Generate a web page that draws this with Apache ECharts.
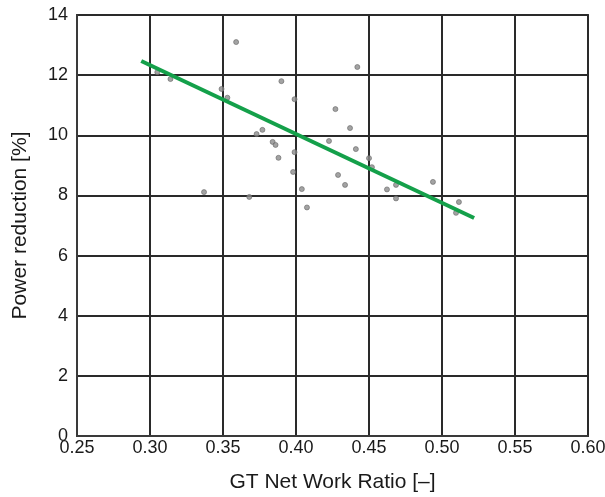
<!DOCTYPE html>
<html>
<head>
<meta charset="utf-8">
<script src="https://cdn.jsdelivr.net/npm/echarts@6/dist/echarts.min.js"></script>
<style>html,body{margin:0;padding:0;background:#fff}#c{width:605px;height:497px}</style>
</head>
<body>
<div id="c"></div>
<script>
const xRatio = [0.359,0.305,0.314,0.349,0.353,0.337,0.373,0.377,0.384,0.386,0.388,0.399,0.398,0.404,0.368,0.4075,0.390,0.399,0.427,0.442,0.437,0.4226,0.441,0.450,0.4288,0.4336,0.452,0.4623,0.4685,0.4685,0.4938,0.5116,0.5096];
const yPower = [13.1,12.1,11.87,11.54,11.25,8.11,10.04,10.18,9.78,9.68,9.25,9.44,8.78,8.21,7.95,7.6,11.8,11.2,10.87,12.27,10.24,9.81,9.54,9.24,8.68,8.35,8.94,8.2,7.9,8.35,8.45,7.78,7.42];
const fitX = [0.294, 0.522];
const fitY = [12.47, 7.25];
const xTicks = [0.25,0.30,0.35,0.40,0.45,0.50,0.55,0.60];

const chart = echarts.init(document.getElementById('c'));
const font = '"Liberation Sans", Arial, sans-serif';
chart.setOption({
  animation: false,
  grid: {left: 77, right: 17, top: 15, bottom: 61, containLabel: false, outerBoundsMode: 'none',
         show: true, borderColor: '#3a3a3a', borderWidth: 2},
  xAxis: {
    type: 'value', min: 0.25, max: 0.60, interval: 0.05,
    name: 'GT Net Work Ratio [–]', nameLocation: 'middle', nameGap: 36,
    nameTextStyle: {fontFamily: font, fontSize: 21, color: '#1a1a1a'},
    axisLine: {show: true, lineStyle: {color: '#3a3a3a', width: 2}},
    axisTick: {show: false},
    axisLabel: {fontFamily: font, fontSize: 18, color: '#1a1a1a', margin: 3, formatter: v => v.toFixed(2)},
    splitLine: {show: true, lineStyle: {color: '#2a2a2a', width: 2}}
  },
  yAxis: {
    type: 'value', min: 0, max: 14, interval: 2,
    name: 'Power reduction [%]', nameLocation: 'middle', nameGap: 46,
    nameTextStyle: {fontFamily: font, fontSize: 21, color: '#1a1a1a'},
    axisLine: {show: true, lineStyle: {color: '#3a3a3a', width: 2}},
    axisTick: {show: false},
    axisLabel: {fontFamily: font, fontSize: 18, color: '#1a1a1a', margin: 9},
    splitLine: {show: true, lineStyle: {color: '#2a2a2a', width: 2}}
  },
  series: [
    {
      type: 'scatter', symbol: 'circle', symbolSize: 5,
      itemStyle: {color: '#8c8c8c', borderColor: '#6a6a6a', borderWidth: 0.8},
      data: xRatio.map((x, i) => [x, yPower[i]]), z: 3
    },
    {
      type: 'line', symbol: 'none',
      lineStyle: {color: '#14a04a', width: 4},
      data: fitX.map((x, i) => [x, fitY[i]]), z: 4
    }
  ]
});
</script>
</body>
</html>
